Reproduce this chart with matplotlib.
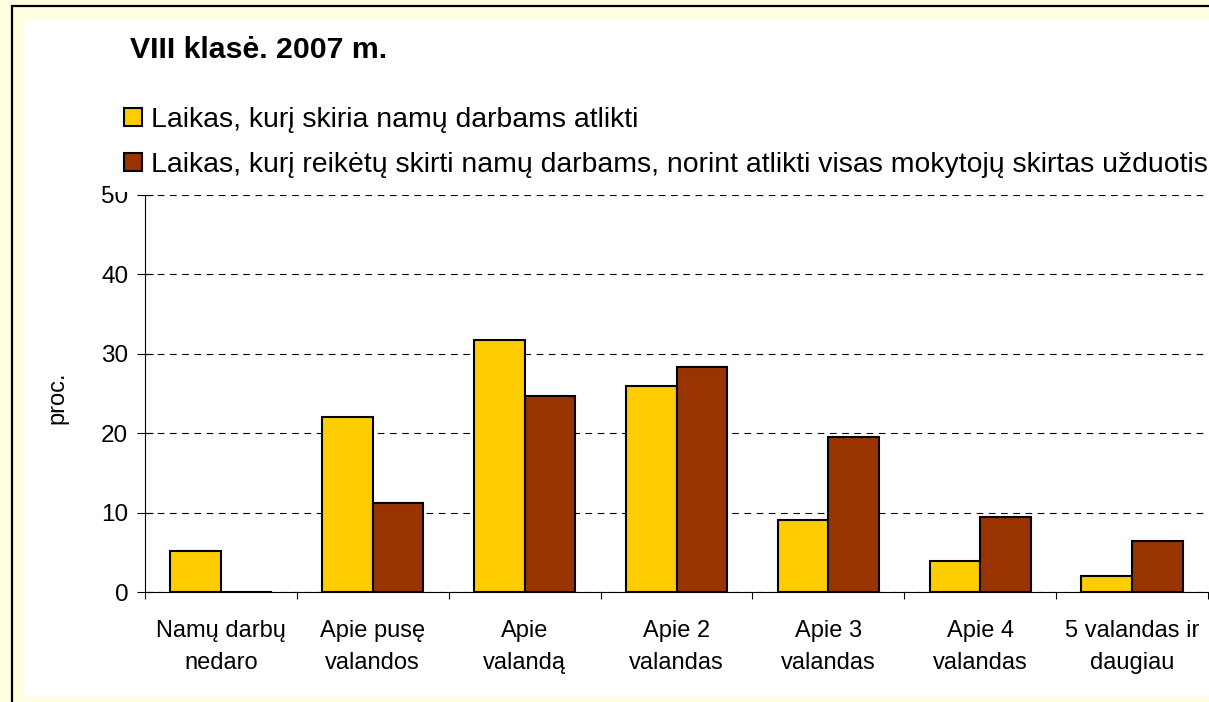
import matplotlib
matplotlib.use('Agg')
import matplotlib.pyplot as plt
from matplotlib.patches import Rectangle
import numpy as np

plt.rcParams['font.family'] = ['Liberation Sans', 'DejaVu Sans']

categories = ['Namų darbų\nnedaro', 'Apie pusę\nvalandos', 'Apie\nvalandą', 'Apie 2\nvalandas',
              'Apie 3\nvalandas', 'Apie 4\nvalandas', '5 valandas ir\ndaugiau']
spent = [5.2, 22.0, 31.7, 26.0, 9.1, 3.9, 2.1]
needed = [0.0, 11.3, 24.7, 28.4, 19.5, 9.5, 6.4]
series_labels = ['Laikas, kurį skiria namų darbams atlikti',
                 'Laikas, kurį reikėtų skirti namų darbams, norint atlikti visas mokytojų skirtas užduotis']
colors = ['#FFCC00', '#993300']

W, H = 1209, 702
fig = plt.figure(figsize=(W / 100, H / 100), dpi=100)
fig.patch.set_facecolor('#FFFFE0')

# chart area frame and white plot panel, kept behind the axes
fig.patches.append(Rectangle((12 / W, -0.1), 1.2, 1.1 - 6 / H, transform=fig.transFigure,
                             facecolor='#FFFFE0', edgecolor='black', linewidth=1.6, zorder=-2))
fig.patches.append(Rectangle((24 / W, 5 / H), 1.0, 1 - 24 / H, transform=fig.transFigure,
                             facecolor='white', edgecolor='none', zorder=-1))

ax = fig.add_axes([145 / W, 1 - 592.4 / H, 1063 / W, (592.4 - 194.7) / H])
ax.set_facecolor('none')

x = np.arange(len(categories))
w = 1 / 3
b1 = ax.bar(x - w / 2, spent, w, color=colors[0], edgecolor='black', linewidth=1.5, zorder=3)
b2 = ax.bar(x + w / 2, needed, w, color=colors[1], edgecolor='black', linewidth=1.5, zorder=3)

ax.set_xlim(-0.5, len(categories) - 0.5)
ax.set_ylim(0, 50)
ax.set_yticks(range(0, 51, 10))
ax.yaxis.grid(True, color='black', linestyle=(0, (6, 5)), linewidth=0.8, zorder=1)
ax.set_axisbelow(True)

ax.set_xticks(x)
ax.set_xticklabels(categories, fontsize=17, linespacing=1.57)
ax.set_xticks(np.arange(-0.5, len(categories)), minor=True)
ax.tick_params(axis='x', which='major', length=0, pad=20)
ax.tick_params(axis='x', which='minor', length=5, direction='out', width=0.8)
ax.tick_params(axis='y', direction='inout', length=11, width=0.8, pad=6.5, labelsize=17.5)

for s in ['top', 'right']:
    ax.spines[s].set_visible(False)
for s in ['left', 'bottom']:
    ax.spines[s].set_linewidth(0.8)

ax.set_ylabel('proc.', fontsize=17)
ax.yaxis.set_label_coords(-0.072, 0.49)

fig.text(130 / W, 1 - 58 / H, 'VIII klasė. 2007 m.', fontsize=21.8, fontweight='bold', va='baseline')

# white legend box overlaps the top of the "50" label
leg = fig.legend([b1, b2], series_labels, loc='upper left', bbox_to_anchor=(110 / W, 1 - 93 / H),
                 frameon=True, fancybox=False, facecolor='white', edgecolor='none', framealpha=1,
                 fontsize=20.4, handlelength=0.62, handleheight=0.62,
                 handletextpad=0.32, labelspacing=0.66, borderaxespad=0, borderpad=0.5)

fig.savefig('out.png', dpi=100, facecolor=fig.get_facecolor())
